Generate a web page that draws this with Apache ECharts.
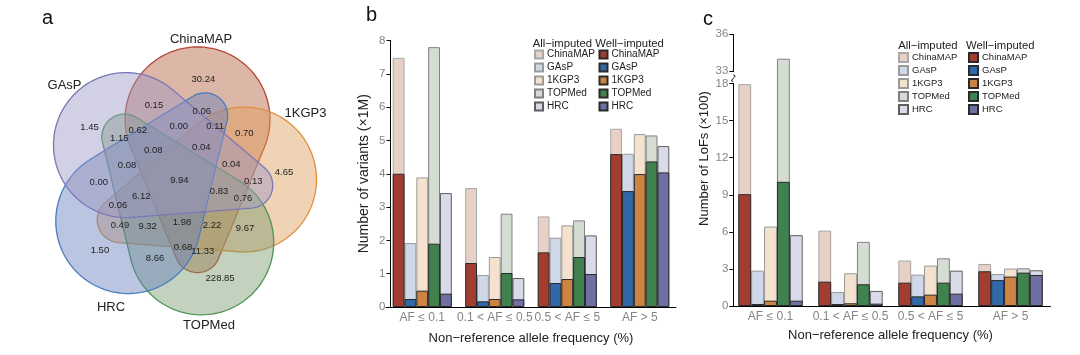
<!DOCTYPE html>
<html><head><meta charset="utf-8">
<script src="https://cdn.jsdelivr.net/npm/echarts@6/dist/echarts.min.js"></script>
<style>html,body{margin:0;padding:0;background:#fff}#c{width:1080px;height:355px}</style>
</head><body><div id="c"></div>
<script>
const FONT = "'Liberation Sans', Arial, Helvetica, sans-serif";

// ---------- data ----------
const panels = ['ChinaMAP', 'GAsP', '1KGP3', 'TOPMed', 'HRC'];
const afBins = ['AF \u2264 0.1', '0.1 < AF \u2264 0.5', '0.5 < AF \u2264 5', 'AF > 5'];

// panel b: number of variants (x1M)
const varAllChinaMAP = [7.48, 3.57, 2.72, 5.35];
const varAllGAsP     = [1.92, 0.96, 2.08, 4.60];
const varAll1KGP3    = [3.89, 1.50, 2.45, 5.19];
const varAllTOPMed   = [7.80, 2.80, 2.60, 5.15];
const varAllHRC      = [3.42, 0.87, 2.15, 4.83];
const varWellChinaMAP = [4.00, 1.32, 1.64, 4.59];
const varWellGAsP     = [0.24, 0.17, 0.72, 3.48];
const varWell1KGP3    = [0.49, 0.24, 0.84, 3.99];
const varWellTOPMed   = [1.90, 1.02, 1.50, 4.37];
const varWellHRC      = [0.40, 0.23, 0.99, 4.04];

// panel c: number of LoFs (x100)
const lofAllChinaMAP = [17.95, 6.10, 3.68, 3.40];
const lofAllGAsP     = [2.86, 1.13, 2.54, 2.59];
const lofAll1KGP3    = [6.43, 2.65, 3.27, 3.03];
const lofAllTOPMed   = [34.0, 5.19, 3.86, 3.05];
const lofAllHRC      = [5.73, 1.22, 2.86, 2.89];
const lofWellChinaMAP = [9.05, 1.97, 1.89, 2.81];
const lofWellGAsP     = [0.16, 0.16, 0.78, 2.10];
const lofWell1KGP3    = [0.43, 0.22, 0.92, 2.38];
const lofWellTOPMed   = [10.05, 1.76, 1.89, 2.70];
const lofWellHRC      = [0.43, 0.19, 1.00, 2.51];

// panel a: Venn (x1M); sets clockwise from top
const vennSets = ['ChinaMAP', '1KGP3', 'TOPMed', 'HRC', 'GAsP'];
const vennOnly   = [30.24, 4.65, 228.85, 1.50, 1.45];
const vennRingA  = [0.15, 0.70, 9.67, 8.66, 0.00];
const vennRingB  = [0.06, 0.13, 11.33, 0.49, 1.15];
const vennRingC  = [0.62, 0.11, 0.76, 0.68, 0.06];
const vennRingD  = [0.00, 0.04, 2.22, 9.32, 0.08];
const vennRingE  = [0.08, 0.04, 0.83, 1.98, 6.12];
const vennAll    = 9.94;

// ---------- styles ----------
const allColor  = {ChinaMAP:'#e7d0c5', GAsP:'#cfd8e8', '1KGP3':'#f4e2ce', TOPMed:'#d5ddd3', HRC:'#dadbea'};
const allBorder = {ChinaMAP:'#a8a8a8', GAsP:'#9a9a9a', '1KGP3':'#9a9a9a', TOPMed:'#808080', HRC:'#5e5e5e'};
const wellColor = {ChinaMAP:'#a23e31', GAsP:'#3068a8', '1KGP3':'#cd8443', TOPMed:'#41804f', HRC:'#6e6fa3'};
const vennFill  = {ChinaMAP:'rgba(171,82,44,0.42)', '1KGP3':'rgba(222,155,88,0.45)', TOPMed:'rgba(122,155,111,0.45)', HRC:'rgba(99,126,188,0.45)', GAsP:'rgba(155,151,195,0.45)'};
const vennLine  = {ChinaMAP:'#b5483a', '1KGP3':'#e0903f', TOPMed:'#4f9450', HRC:'#4a7cc0', GAsP:'#7a78b8'};

const chart = echarts.init(document.getElementById('c'), null, {renderer:'canvas'});

const dataB = {all:[varAllChinaMAP,varAllGAsP,varAll1KGP3,varAllTOPMed,varAllHRC],
               well:[varWellChinaMAP,varWellGAsP,varWell1KGP3,varWellTOPMed,varWellHRC]};
const dataC = {all:[lofAllChinaMAP,lofAllGAsP,lofAll1KGP3,lofAllTOPMed,lofAllHRC],
               well:[lofWellChinaMAP,lofWellGAsP,lofWell1KGP3,lofWellTOPMed,lofWellHRC]};

const series = [];
function addSeries(prefix, d, xAll, xWell, yIdx, gap) {
  panels.forEach((p, i) => {
    series.push({type:'bar', name: prefix+'All'+p, xAxisIndex:xAll, yAxisIndex:yIdx, data:d.all[i],
      barGap:'0%', barCategoryGap:gap, z:2, animation:false,
      itemStyle:{color:allColor[p], borderColor:allBorder[p], borderWidth:1}});
  });
  panels.forEach((p, i) => {
    series.push({type:'bar', name: prefix+'Well'+p, xAxisIndex:xWell, yAxisIndex:yIdx, data:d.well[i],
      barGap:'0%', barCategoryGap:gap, z:3, animation:false,
      itemStyle:{color:wellColor[p], borderColor:'#2a2a2a', borderWidth:1}});
  });
}
addSeries('b', dataB, 0, 1, 0, '18.5%');
addSeries('c', dataC, 2, 3, 1, '19.5%');

function xAx(grid, nameGap) {
  return [{gridIndex:grid, type:'category', data:afBins,
    axisLine:{lineStyle:{color:'#000', width:1}}, axisTick:{show:false},
    axisLabel:{color:'#858585', fontSize:12, margin:5, fontFamily:FONT, interval:0},
    name:'Non\u2212reference allele frequency (%)', nameLocation:'middle', nameGap:nameGap,
    nameTextStyle:{fontSize:13, color:'#222', fontFamily:FONT}},
   {gridIndex:grid, type:'category', data:afBins, show:false}];
}
const yCommon = {type:'value', splitLine:{show:false},
  axisLine:{show:true, lineStyle:{color:'#000', width:1}},
  axisTick:{show:true, length:4, lineStyle:{color:'#000'}},
  axisLabel:{color:'#858585', fontSize:11.5, margin:5, fontFamily:FONT},
  nameLocation:'middle'};

const legendFmt = n => n.replace(/^[bc](All|Well)/, '');
function legend(prefix, kind, left, top, size, fs) {
  return {data: panels.map(p => prefix+kind+p), orient:'vertical', left:left, top:top,
    itemWidth:size, itemHeight:size, itemGap:11-size, padding:0, icon:'rect', selectedMode:false,
    formatter:legendFmt, textStyle:{fontSize:fs, color:'#222', fontFamily:FONT, padding:[0,0,0,-1]}};
}

// Venn geometry
const CX = 179.4, CY = 181.5, S = 1.035;
function eggPoints(thetaDeg) {
  const R1 = 70*S, R2 = 22*S, u1 = -60*S, u2 = 66*S, v0 = -17.5*S;
  const phi = Math.asin((R1 - R2)/(u2 - u1));
  const a0 = Math.PI/2 - phi;
  const pts = [];
  for (let i = 0; i <= 90; i++) { const a = a0 + (2*Math.PI - 2*a0)*i/90; pts.push([u1 + R1*Math.cos(a), R1*Math.sin(a)]); }
  for (let i = 0; i <= 40; i++) { const a = -a0 + 2*a0*i/40; pts.push([u2 + R2*Math.cos(a), R2*Math.sin(a)]); }
  const t = thetaDeg*Math.PI/180, ct = Math.cos(t), st = Math.sin(t);
  return pts.map(([u, v]) => { v += v0; return [CX + u*ct - v*st, CY + u*st + v*ct]; });
}
const graphics = [];
vennSets.forEach((s, k) => {
  graphics.push({type:'polygon', shape:{points:eggPoints(90 + 72*k)}, z:1,
    style:{fill:vennFill[s], stroke:vennLine[s], lineWidth:1.3}});
});
const rings = [
  {vals:vennOnly,  r:105,  a:-76.8},
  {vals:vennRingA, r:80.7, a:-108.4},
  {vals:vennRingB, r:73.9, a:-72.4},
  {vals:vennRingC, r:65.9, a:-129.2},
  {vals:vennRingD, r:54.8, a:-90.6},
  {vals:vennRingE, r:41,   a:-129.6}
];
function txt(x, y, text, fs, color, align) {
  return {type:'text', z:10, style:{x:x, y:y, text:text, fill:color||'#222', align:align||'center',
    verticalAlign:'middle', font: fs + 'px ' + FONT}};
}
rings.forEach(rg => rg.vals.forEach((v, k) => {
  const ang = (rg.a + 72*k)*Math.PI/180;
  graphics.push(txt(CX + rg.r*Math.cos(ang), CY + rg.r*Math.sin(ang), v.toFixed(2), 9.5));
}));
graphics.push(txt(CX, CY - 1, vennAll.toFixed(2), 9.5));
const setLabelPos = {ChinaMAP:[201,39], '1KGP3':[305.5,113], TOPMed:[209,325], HRC:[111,307], GAsP:[64.5,85]};
vennSets.forEach(s => graphics.push(txt(setLabelPos[s][0], setLabelPos[s][1], s, 13)));
// panel letters and legend headers
graphics.push(txt(42, 18, 'a', 20, '#111', 'left'));
graphics.push(txt(366, 15, 'b', 20, '#111', 'left'));
graphics.push(txt(703, 19, 'c', 20, '#111', 'left'));
graphics.push(txt(532.7, 43.5, 'All\u2212imputed', 11.3, '#222', 'left'));
graphics.push(txt(595.3, 43.5, 'Well\u2212imputed', 11.3, '#222', 'left'));
graphics.push(txt(898.3, 45.7, 'All\u2212imputed', 11.3, '#222', 'left'));
graphics.push(txt(966, 45.7, 'Well\u2212imputed', 11.3, '#222', 'left'));

const gridC = {left:730.5, width:320, top:34, height:272};
const yOffC = -2.8;
const option = {
  animation:false,
  textStyle:{fontFamily:FONT},
  grid:[{left:386, width:290, top:40.5, height:266.5}, gridC],
  xAxis:[...xAx(0, 25), ...xAx(1, 22.5)],
  yAxis:[
    Object.assign({}, yCommon, {gridIndex:0, min:0, max:8, interval:1, offset:-4.5,
      name:'Number of variants (\u00d71M)', nameGap:19,
      nameTextStyle:{fontSize:14, color:'#222', fontFamily:FONT}}),
    Object.assign({}, yCommon, {gridIndex:1, min:0, max:36, interval:3, offset:yOffC,
      name:'Number of LoFs (\u00d7100)', nameGap:22,
      nameTextStyle:{fontSize:13, color:'#222', fontFamily:FONT, padding:[0,0,0,23]},
      breaks:[{start:18, end:33, gap:'4.6%'}],
      breakArea:{show:true, itemStyle:{color:'rgba(255,255,255,0)', borderColor:'rgba(0,0,0,0)', opacity:0}}})
  ],
  legend:[legend('b','All',534,49.5,8,10), legend('b','Well',598.5,49.5,8,10),
          legend('c','All',898,52,9,9.5), legend('c','Well',968,52,9,9.5)],
  series: series,
  graphic: graphics
};
chart.setOption(option);

// axis-break squiggle on panel c's y axis, placed from the axis scale
const ax = gridC.left - yOffC;
const yHi = chart.convertToPixel({yAxisIndex:1}, 33);
const yLo = chart.convertToPixel({yAxisIndex:1}, 18);
const ya = yHi + 4, yb = yLo - 2;
graphics.push({type:'rect', z:20, shape:{x:ax-2, y:ya, width:4, height:yb-ya}, style:{fill:'#fff'}});
graphics.push({type:'bezierCurve', z:21, shape:{x1:ax, y1:ya, x2:ax, y2:yb, cpx1:ax+6, cpy1:ya+1, cpx2:ax-6, cpy2:yb-1},
  style:{stroke:'#000', lineWidth:1, fill:null}});
chart.setOption({graphic: graphics});
</script></body></html>
